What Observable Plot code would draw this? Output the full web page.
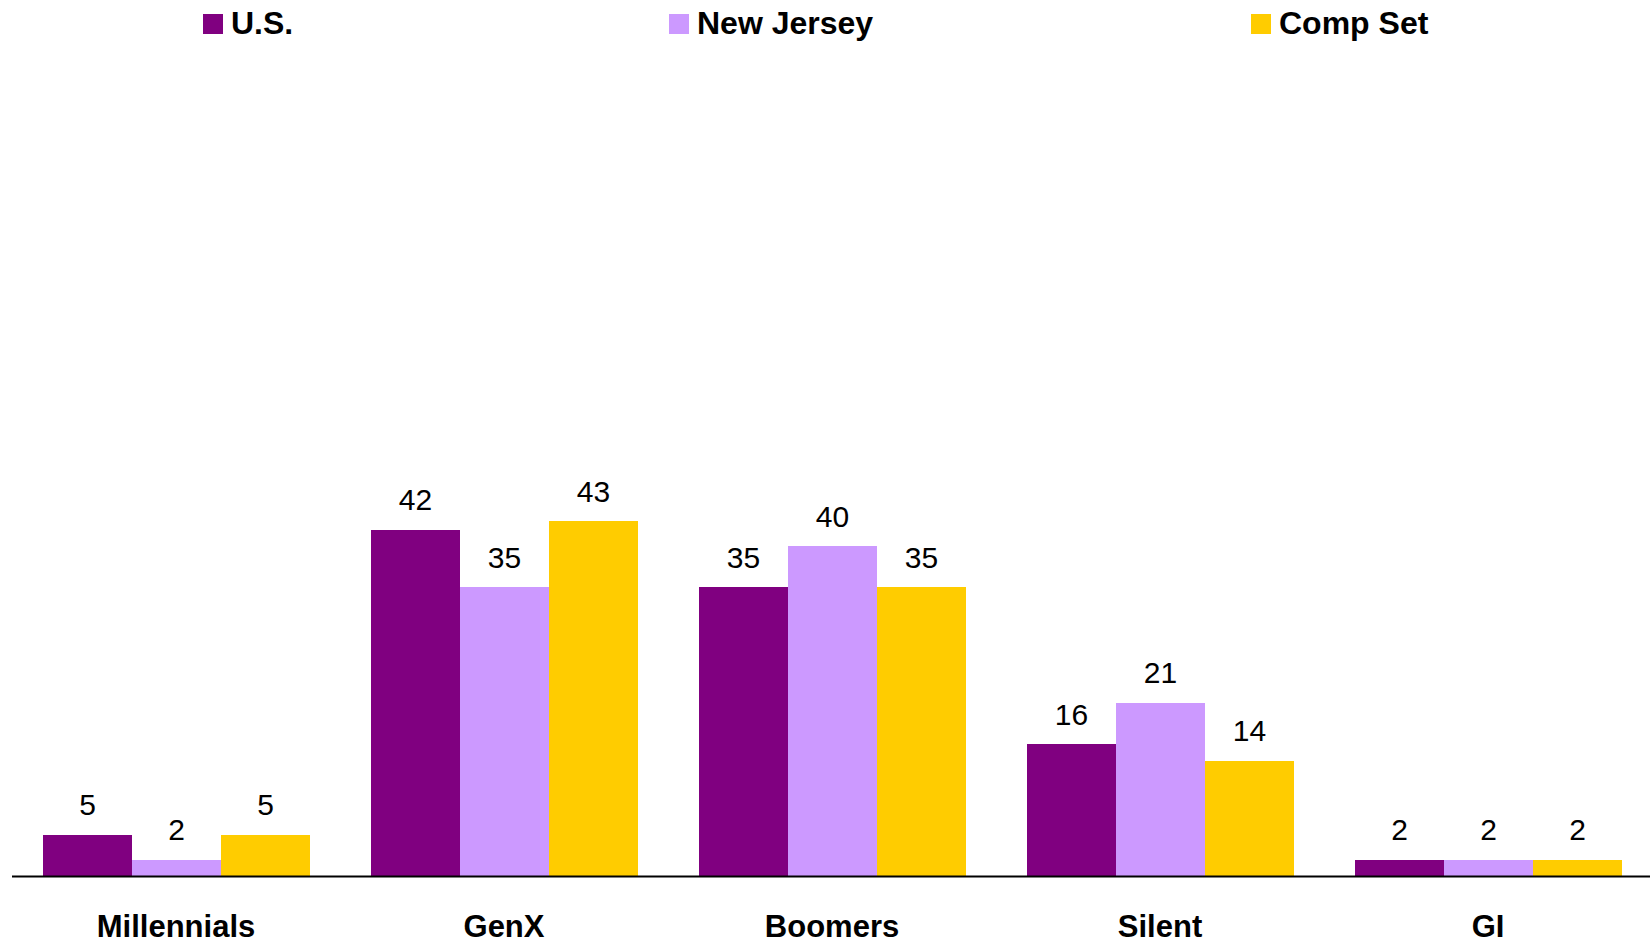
<!DOCTYPE html>
<html>
<head>
<meta charset="utf-8">
<script src="https://cdn.jsdelivr.net/npm/d3@7"></script>
<script src="https://cdn.jsdelivr.net/npm/@observablehq/plot@0.6"></script>
<style>
  body { margin: 0; background: #fff; font-family: "Liberation Sans", Arial, sans-serif; }
  #legend { position: relative; width: 1650px; height: 50px; }
  #legend .sw { position: absolute; top: 14px; width: 20px; height: 20px; }
  #legend .lbl { position: absolute; top: 7px; font-weight: bold; font-size: 32px; line-height: 32px; color: #000; white-space: nowrap; }
  #chart svg { display: block; }
</style>
</head>
<body>
<div id="legend"></div>
<div id="chart"></div>
<script>
const categories = ["Millennials", "GenX", "Boomers", "Silent", "GI"];
const seriesNames = ["U.S.", "New Jersey", "Comp Set"];
const seriesColors = ["#800080", "#CC99FF", "#FFCC00"];
const usValues = [5, 42, 35, 16, 2];
const njValues = [2, 35, 40, 21, 2];
const compValues = [5, 43, 35, 14, 2];

const seriesValues = [usValues, njValues, compValues];
const data = [];
categories.forEach((c, i) => {
  seriesNames.forEach((s, j) => {
    data.push({category: c, series: s, value: seriesValues[j][i]});
  });
});

// legend
const legendLeft = [203, 669, 1251];
const legend = document.getElementById("legend");
seriesNames.forEach((s, j) => {
  const sw = document.createElement("div");
  sw.className = "sw";
  sw.style.left = legendLeft[j] + "px";
  sw.style.background = seriesColors[j];
  legend.appendChild(sw);
  const lbl = document.createElement("div");
  lbl.className = "lbl";
  lbl.style.left = (legendLeft[j] + 28) + "px";
  lbl.textContent = s;
  legend.appendChild(lbl);
});

const font = '"Liberation Sans", Arial, sans-serif';
const W = 1650, ML = 12.5, MR = 0;

function makePlot(extraLeft, extraRight) {
  return Plot.plot({
    width: W,
    height: 892,
    marginTop: 1,
    marginBottom: 66,
    marginLeft: ML,
    marginRight: MR,
    style: {fontFamily: font, background: "#fff", overflow: "visible"},
    fx: {domain: categories, paddingInner: 0.1866, paddingOuter: 0.089, axis: null, label: null},
    x: {domain: seriesNames, padding: 0, axis: null, label: null},
    y: {domain: [0, 100], axis: null, label: null},
    color: {domain: seriesNames, range: seriesColors},
    marks: [
      Plot.barY(data, {fx: "category", x: "series", y: "value", fill: "series", shapeRendering: "crispEdges"}),
      Plot.text(data, {fx: "category", x: "series", y: "value", text: d => String(d.value),
        lineAnchor: "bottom", dy: -20, fontSize: 30, fill: "#000"}),
      Plot.text(categories, {fx: d => d, frameAnchor: "bottom", text: d => d, lineAnchor: "bottom",
        dy: 60, fontSize: 31, fontWeight: "bold", fill: "#000"}),
      Plot.frame({anchor: "bottom", facet: "super", stroke: "#000", strokeWidth: 2,
        insetLeft: -extraLeft, insetRight: -extraRight})
    ]
  });
}

// first pass: read the fx scale to extend the baseline across the full frame
const probe = makePlot(0, 0);
const fxs = probe.scale("fx");
const firstX = fxs.apply(categories[0]);
const lastX = fxs.apply(categories[categories.length - 1]) + fxs.bandwidth;
const chart = makePlot(firstX - ML, (W - MR) - lastX);
document.getElementById("chart").appendChild(chart);
</script>
</body>
</html>
